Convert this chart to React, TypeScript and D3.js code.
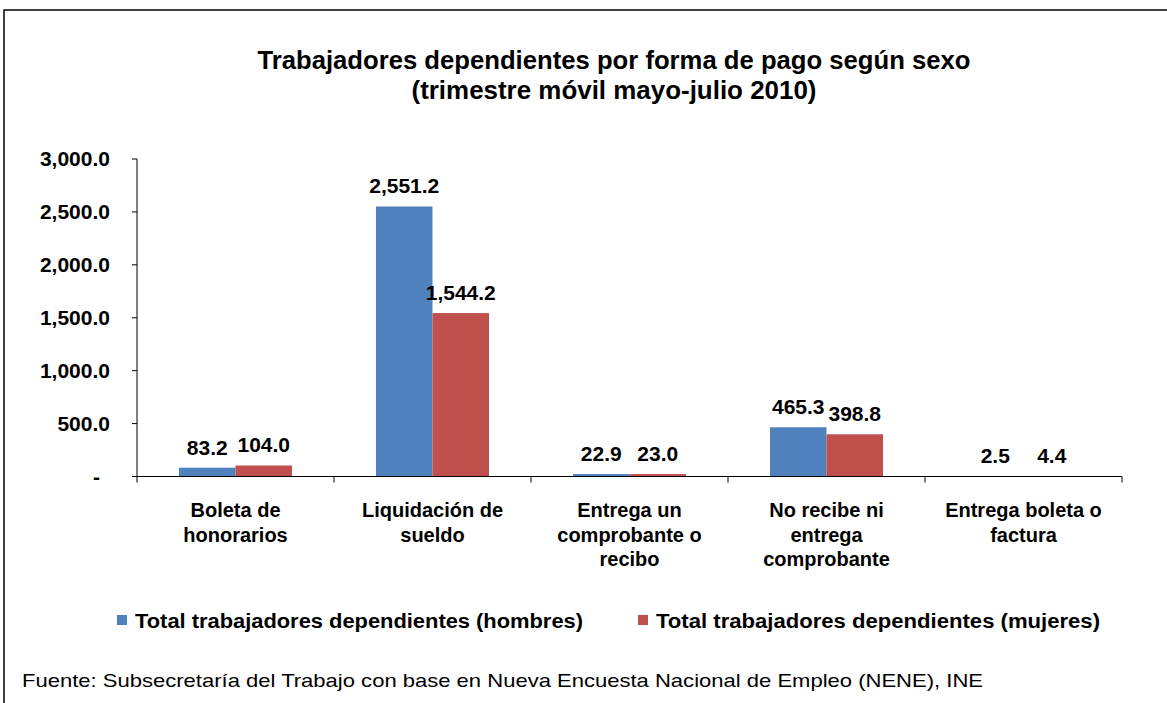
import React from "react";
import * as d3 from "d3";

const categories: string[][] = [
  ["Boleta de", "honorarios"],
  ["Liquidación de", "sueldo"],
  ["Entrega un", "comprobante o", "recibo"],
  ["No recibe ni", "entrega", "comprobante"],
  ["Entrega boleta o", "factura"],
];
const hombres = [83.2, 2551.2, 22.9, 465.3, 2.5];
const mujeres = [104.0, 1544.2, 23.0, 398.8, 4.4];
const seriesNames = [
  "Total trabajadores dependientes (hombres)",
  "Total trabajadores dependientes (mujeres)",
];
const seriesColors = ["#4F81BD", "#C0504D"];
const yTicks = [0, 500, 1000, 1500, 2000, 2500, 3000];
const titleLines = [
  "Trabajadores dependientes por forma de pago según sexo",
  "(trimestre móvil mayo-julio 2010)",
];
const footer =
  "Fuente: Subsecretaría del Trabajo con base en Nueva Encuesta Nacional de Empleo (NENE), INE";

const W = 1167;
const H = 703;
const FONT = "'Liberation Sans', Arial, sans-serif";

export default function App() {
  const left = 137;
  const right = 1122;
  const top = 159;
  const bottom = 476.5;
  const x = d3
    .scaleBand<number>()
    .domain(categories.map((_, i) => i))
    .range([left, right])
    .paddingInner(0)
    .paddingOuter(0);
  const inner = d3
    .scaleBand<number>()
    .domain([0, 1])
    .range([0, x.bandwidth()])
    .paddingOuter(0.743)
    .paddingInner(0);
  const y = d3.scaleLinear().domain([0, 3000]).range([bottom, top]);
  const fmt = d3.format(",.1f");
  const series = [hombres, mujeres];

  return (
    <svg
      width={W}
      height={H}
      style={{ position: "absolute", left: 0, top: 0, background: "#fff" }}
      fontFamily={FONT}
    >
      <rect x={4} y={10} width={W + 10} height={H + 10} fill="#fff" stroke="#000" strokeWidth={1.5} />
      {titleLines.map((t, i) => (
        <text
          key={i}
          x={614}
          y={69 + i * 30}
          textAnchor="middle"
          fontSize={25}
          fontWeight="bold"
          textLength={i === 0 ? 713 : 405}
          lengthAdjust="spacingAndGlyphs"
        >
          {t}
        </text>
      ))}
      {/* y axis */}
      <line x1={left} x2={left} y1={top} y2={bottom} stroke="#000" strokeWidth={1} />
      {yTicks.map((t) => (
        <g key={t} transform={`translate(0,${y(t)})`}>
          <line x1={left - 5} x2={left} stroke="#000" />
          <text
            x={t === 0 ? 100 : 110}
            dy="0.35em"
            textAnchor="end"
            fontSize={21}
            fontWeight="bold"
          >
            {t === 0 ? "-" : fmt(t)}
          </text>
        </g>
      ))}
      {/* bars */}
      {series.map((vals, s) =>
        vals.map((v, i) => {
          const bx = (x(i) as number) + (inner(s) as number);
          const bw = inner.bandwidth();
          return (
            <g key={`${s}-${i}`}>
              <rect x={bx} y={y(v)} width={bw} height={bottom - y(v)} fill={seriesColors[s]} />
              <text
                x={bx + bw / 2}
                y={y(v) - 13}
                textAnchor="middle"
                fontSize={21}
                fontWeight="bold"
              >
                {fmt(v)}
              </text>
            </g>
          );
        })
      )}
      {/* x axis */}
      <line x1={left} x2={right} y1={bottom} y2={bottom} stroke="#000" strokeWidth={1} />
      {d3.range(categories.length + 1).map((i) => {
        const xx = i < categories.length ? (x(i) as number) : right;
        return <line key={i} x1={xx} x2={xx} y1={bottom} y2={bottom + 6} stroke="#000" />;
      })}
      {categories.map((lines, i) => (
        <text
          key={i}
          x={(x(i) as number) + x.bandwidth() / 2}
          textAnchor="middle"
          fontSize={20}
          fontWeight="bold"
        >
          {lines.map((l, j) => (
            <tspan key={j} x={(x(i) as number) + x.bandwidth() / 2} y={517 + j * 24.5}>
              {l}
            </tspan>
          ))}
        </text>
      ))}
      {/* legend */}
      {seriesNames.map((n, s) => {
        const lx = s === 0 ? 117 : 638;
        return (
          <g key={n}>
            <rect x={lx} y={615} width={10} height={10} fill={seriesColors[s]} />
            <text
              x={lx + 18}
              y={628}
              fontSize={20}
              fontWeight="bold"
              textLength={s === 0 ? 448 : 444}
              lengthAdjust="spacingAndGlyphs"
            >
              {n}
            </text>
          </g>
        );
      })}
      <text x={22} y={687} fontSize={19} textLength={961} lengthAdjust="spacingAndGlyphs">
        {footer}
      </text>
    </svg>
  );
}
